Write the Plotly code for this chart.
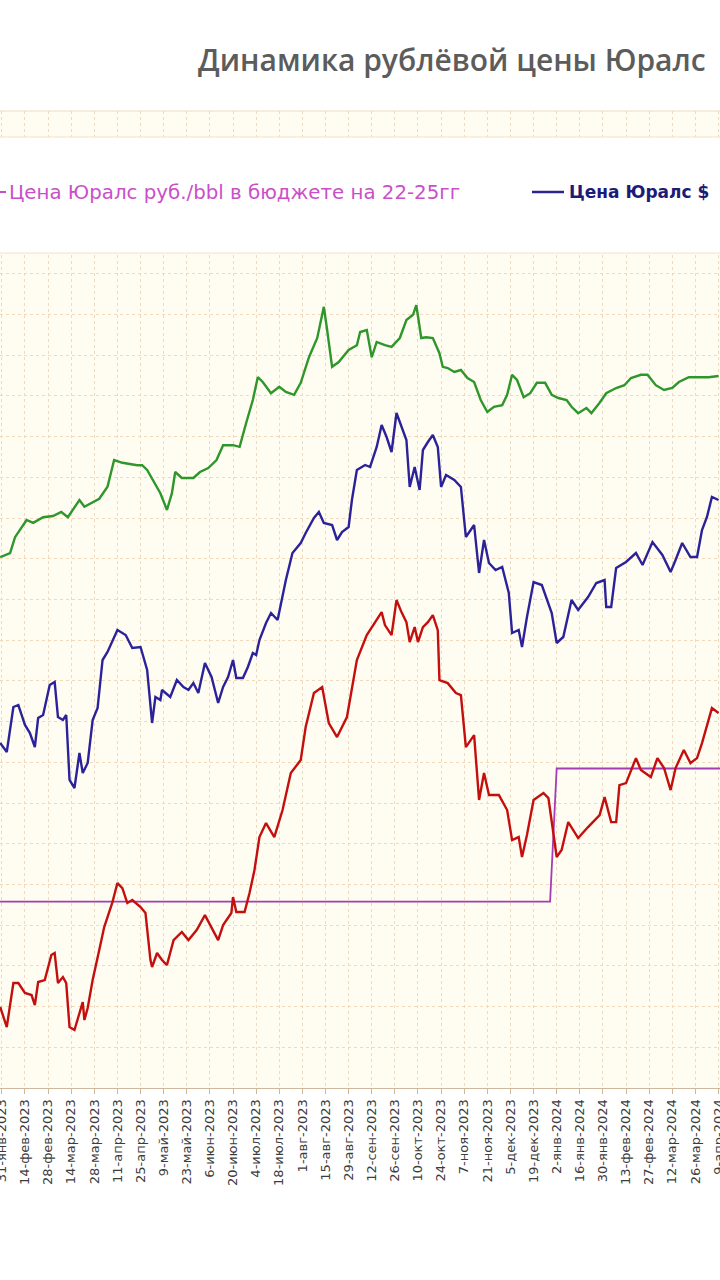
import plotly.graph_objects as go

# ---------------- data ----------------
tick_dates = ["2023-01-31", "2023-02-14", "2023-02-28", "2023-03-14", "2023-03-28", "2023-04-11",
              "2023-04-25", "2023-05-09", "2023-05-23", "2023-06-06", "2023-06-20", "2023-07-04",
              "2023-07-18", "2023-08-01", "2023-08-15", "2023-08-29", "2023-09-12", "2023-09-26",
              "2023-10-10", "2023-10-24", "2023-11-07", "2023-11-21", "2023-12-05", "2023-12-19",
              "2024-01-02", "2024-01-16", "2024-01-30", "2024-02-13", "2024-02-27", "2024-03-12",
              "2024-03-26", "2024-04-09"]
tick_labels = ["31-янв-2023", "14-фев-2023", "28-фев-2023", "14-мар-2023", "28-мар-2023", "11-апр-2023",
               "25-апр-2023", "9-май-2023", "23-май-2023", "6-июн-2023", "20-июн-2023", "4-июл-2023",
               "18-июл-2023", "1-авг-2023", "15-авг-2023", "29-авг-2023", "12-сен-2023", "26-сен-2023",
               "10-окт-2023", "24-окт-2023", "7-ноя-2023", "21-ноя-2023", "5-дек-2023", "19-дек-2023",
               "2-янв-2024", "16-янв-2024", "30-янв-2024", "13-фев-2024", "27-фев-2024", "12-мар-2024",
               "26-мар-2024", "9-апр-2024"]

# budget Urals price, rub/bbl
budget_dates = ["2023-01-29", "2023-12-29", "2024-01-02", "2024-04-10"]
budget_rub = [4788, 4788, 6424, 6424]

# Urals price in rubles, rub/bbl
urals_rub_dates = ["2023-01-30", "2023-02-03", "2023-02-07", "2023-02-10", "2023-02-14", "2023-02-18",
                   "2023-02-20", "2023-02-22", "2023-02-26", "2023-03-02", "2023-03-04", "2023-03-06",
                   "2023-03-09", "2023-03-11", "2023-03-13", "2023-03-16", "2023-03-21", "2023-03-22",
                   "2023-03-24", "2023-03-27", "2023-03-31", "2023-04-03", "2023-04-08", "2023-04-11",
                   "2023-04-14", "2023-04-17", "2023-04-20", "2023-04-25", "2023-04-28", "2023-05-01",
                   "2023-05-02", "2023-05-05", "2023-05-08", "2023-05-11", "2023-05-15", "2023-05-20",
                   "2023-05-24", "2023-05-29", "2023-06-03", "2023-06-07", "2023-06-11", "2023-06-14",
                   "2023-06-19", "2023-06-20", "2023-06-22", "2023-06-27", "2023-06-30", "2023-07-03",
                   "2023-07-06", "2023-07-10", "2023-07-15", "2023-07-20", "2023-07-25", "2023-07-31",
                   "2023-08-03", "2023-08-08", "2023-08-13", "2023-08-17", "2023-08-22", "2023-08-28",
                   "2023-08-31", "2023-09-03", "2023-09-09", "2023-09-14", "2023-09-18", "2023-09-20",
                   "2023-09-24", "2023-09-27", "2023-09-30", "2023-10-03", "2023-10-05", "2023-10-08",
                   "2023-10-10", "2023-10-13", "2023-10-16", "2023-10-19", "2023-10-22", "2023-10-23",
                   "2023-10-28", "2023-11-02", "2023-11-05", "2023-11-08", "2023-11-13", "2023-11-16",
                   "2023-11-19", "2023-11-22", "2023-11-28", "2023-12-03", "2023-12-06", "2023-12-10",
                   "2023-12-12", "2023-12-15", "2023-12-19", "2023-12-25", "2023-12-28", "2024-01-02",
                   "2024-01-05", "2024-01-09", "2024-01-15", "2024-01-21", "2024-01-28", "2024-01-31",
                   "2024-02-04", "2024-02-07", "2024-02-09", "2024-02-13", "2024-02-19", "2024-02-22",
                   "2024-02-28", "2024-03-03", "2024-03-07", "2024-03-11", "2024-03-14", "2024-03-19",
                   "2024-03-23", "2024-03-27", "2024-03-30", "2024-04-05", "2024-04-09"]
urals_rub = [3495, 3249, 3789, 3789, 3667, 3642, 3519, 3802, 3826, 4133, 4158, 3789,
             3863, 3789, 3249, 3212, 3556, 3335, 3482, 3826, 4195, 4477, 4784, 5017,
             4956, 4772, 4809, 4723, 4649, 4072, 3986, 4158, 4072, 4010, 4317, 4416,
             4317, 4440, 4624, 4477, 4317, 4502, 4649, 4845, 4661, 4661, 4895, 5177,
             5582, 5754, 5582, 5914, 6368, 6528, 6933, 7351, 7424, 6982, 6810, 7056,
             7424, 7756, 8063, 8222, 8345, 8186, 8063, 8493, 8345, 8222, 7977, 8161,
             7977, 8161, 8222, 8308, 8124, 7510, 7473, 7351, 7326, 6687, 6835, 6037,
             6368, 6098, 6098, 5914, 5545, 5582, 5337, 5607, 6037, 6123, 6061, 5337,
             5423, 5766, 5570, 5705, 5852, 6073, 5766, 5766, 6221, 6245, 6552, 6405,
             6319, 6552, 6430, 6159, 6430, 6651, 6491, 6552, 6737, 7166, 7105]

# Urals price in dollars, $/bbl
urals_usd_dates = ["2023-01-30", "2023-02-03", "2023-02-07", "2023-02-10", "2023-02-14", "2023-02-17",
                   "2023-02-20", "2023-02-22", "2023-02-25", "2023-03-01", "2023-03-04", "2023-03-06",
                   "2023-03-09", "2023-03-11", "2023-03-13", "2023-03-16", "2023-03-19", "2023-03-21",
                   "2023-03-24", "2023-03-27", "2023-03-30", "2023-04-02", "2023-04-05", "2023-04-11",
                   "2023-04-16", "2023-04-20", "2023-04-25", "2023-04-29", "2023-05-02", "2023-05-04",
                   "2023-05-07", "2023-05-08", "2023-05-13", "2023-05-17", "2023-05-21", "2023-05-24",
                   "2023-05-27", "2023-05-30", "2023-06-03", "2023-06-07", "2023-06-11", "2023-06-14",
                   "2023-06-17", "2023-06-20", "2023-06-22", "2023-06-26", "2023-06-29", "2023-07-02",
                   "2023-07-04", "2023-07-06", "2023-07-10", "2023-07-13", "2023-07-17", "2023-07-22",
                   "2023-07-26", "2023-07-31", "2023-08-03", "2023-08-08", "2023-08-11", "2023-08-14",
                   "2023-08-19", "2023-08-22", "2023-08-25", "2023-08-29", "2023-08-31", "2023-09-03",
                   "2023-09-08", "2023-09-11", "2023-09-15", "2023-09-18", "2023-09-21", "2023-09-24",
                   "2023-09-27", "2023-09-30", "2023-10-03", "2023-10-05", "2023-10-08", "2023-10-11",
                   "2023-10-13", "2023-10-16", "2023-10-19", "2023-10-22", "2023-10-24", "2023-10-27",
                   "2023-11-01", "2023-11-05", "2023-11-08", "2023-11-13", "2023-11-16", "2023-11-19",
                   "2023-11-22", "2023-11-26", "2023-11-30", "2023-12-04", "2023-12-06", "2023-12-10",
                   "2023-12-12", "2023-12-15", "2023-12-19", "2023-12-24", "2023-12-30", "2024-01-02",
                   "2024-01-06", "2024-01-11", "2024-01-15", "2024-01-21", "2024-01-26", "2024-01-31",
                   "2024-02-01", "2024-02-04", "2024-02-07", "2024-02-13", "2024-02-19", "2024-02-23",
                   "2024-02-29", "2024-03-06", "2024-03-11", "2024-03-14", "2024-03-18", "2024-03-23",
                   "2024-03-27", "2024-03-30", "2024-04-02", "2024-04-05", "2024-04-09"]
urals_usd = [52.5, 51.6, 56.1, 56.3, 54.3, 53.5, 52.1, 55.0, 55.3, 58.3, 58.6, 55.1,
             54.8, 55.3, 48.8, 48.0, 51.5, 49.5, 50.5, 54.8, 56.0, 60.8, 61.6, 63.8,
             63.3, 62.0, 62.1, 59.8, 54.5, 57.1, 56.8, 57.8, 57.1, 58.8, 58.1, 57.8,
             58.5, 57.5, 60.5, 59.1, 56.5, 58.1, 59.1, 60.8, 59.0, 59.0, 60.1, 61.5,
             61.3, 62.8, 64.5, 65.5, 64.8, 68.8, 71.5, 72.5, 73.5, 75.0, 75.6, 74.5,
             74.3, 72.8, 73.6, 74.1, 76.8, 79.8, 80.3, 80.1, 82.1, 84.3, 83.1, 81.6,
             85.5, 84.1, 82.8, 78.1, 80.1, 77.8, 81.8, 82.6, 83.3, 82.1, 78.1, 79.3,
             78.8, 78.1, 73.1, 74.3, 69.5, 72.8, 70.5, 69.8, 70.1, 67.5, 63.5, 63.8,
             62.1, 65.1, 68.6, 68.3, 65.5, 62.5, 63.1, 66.8, 65.8, 67.1, 68.5, 68.8,
             66.1, 66.1, 70.0, 70.6, 71.5, 70.3, 72.6, 71.3, 69.6, 70.8, 72.5, 71.1,
             71.1, 73.8, 75.1, 77.1, 76.8]

# USD/RUB exchange rate
usdrub_dates = ["2023-01-30", "2023-02-05", "2023-02-08", "2023-02-11", "2023-02-15", "2023-02-19",
                "2023-02-25", "2023-03-03", "2023-03-08", "2023-03-12", "2023-03-19", "2023-03-22",
                "2023-03-31", "2023-04-05", "2023-04-09", "2023-04-14", "2023-04-23", "2023-04-26",
                "2023-04-29", "2023-05-07", "2023-05-11", "2023-05-14", "2023-05-16", "2023-05-20",
                "2023-05-27", "2023-05-31", "2023-06-05", "2023-06-10", "2023-06-14", "2023-06-20",
                "2023-06-24", "2023-06-28", "2023-07-02", "2023-07-05", "2023-07-08", "2023-07-13",
                "2023-07-18", "2023-07-22", "2023-07-27", "2023-07-31", "2023-08-05", "2023-08-10",
                "2023-08-14", "2023-08-16", "2023-08-19", "2023-08-23", "2023-08-29", "2023-09-03",
                "2023-09-05", "2023-09-09", "2023-09-12", "2023-09-15", "2023-09-20", "2023-09-24",
                "2023-09-29", "2023-10-03", "2023-10-07", "2023-10-09", "2023-10-12", "2023-10-15",
                "2023-10-19", "2023-10-23", "2023-10-25", "2023-10-28", "2023-11-01", "2023-11-05",
                "2023-11-09", "2023-11-13", "2023-11-17", "2023-11-21", "2023-11-25", "2023-11-30",
                "2023-12-03", "2023-12-06", "2023-12-09", "2023-12-13", "2023-12-17", "2023-12-21",
                "2023-12-26", "2023-12-30", "2024-01-03", "2024-01-08", "2024-01-11", "2024-01-15",
                "2024-01-20", "2024-01-23", "2024-01-28", "2024-02-01", "2024-02-07", "2024-02-12",
                "2024-02-16", "2024-02-22", "2024-02-26", "2024-03-02", "2024-03-07", "2024-03-12",
                "2024-03-16", "2024-03-22", "2024-03-28", "2024-04-03", "2024-04-09"]
usdrub = [69.6, 70.1, 72.1, 73.0, 74.25, 73.9, 74.6, 74.75, 75.25, 74.6,
          76.75, 75.9, 76.9, 78.4, 81.75, 81.4, 81.1, 81.1, 80.5, 77.6,
          75.5, 77.6, 80.25, 79.5, 79.5, 80.25, 80.75, 81.75, 83.6, 83.6,
          83.4, 86.4, 89.25, 92.1, 91.5, 90.1, 90.9, 90.25, 89.9, 91.4,
          94.6, 97.0, 100.9, 98.0, 93.4, 94.0, 95.5, 96.1, 97.75, 98.0,
          94.6, 96.5, 96.1, 95.9, 97.0, 99.25, 99.9, 101.1, 97.0, 97.1,
          97.0, 95.1, 93.4, 93.25, 92.75, 93.0, 92.0, 91.5, 89.25, 87.75,
          88.4, 88.6, 89.9, 92.4, 91.75, 89.6, 90.1, 91.4, 91.4, 89.9,
          89.5, 89.25, 88.4, 87.6, 88.25, 87.6, 88.9, 90.1, 90.75, 91.1,
          92.0, 92.4, 92.4, 91.1, 90.5, 90.75, 91.5, 92.1, 92.1, 92.1, 92.25]

title_text = "Динамика рублёвой цены Юралс"
legend_budget = "Цена Юралс руб./bbl в бюджете на 22-25гг"
legend_usd = "Цена Юралс $"

# ---------------- layout helpers ----------------
W, H = 720, 1280
TOP, BOT = 111, 192
PLOT_H = H - TOP - BOT


def py(p):
    return (H - BOT - p) / PLOT_H


def px(p):
    return p / W


fig = go.Figure()

fig.add_trace(go.Scatter(x=budget_dates, y=budget_rub, mode="lines", yaxis="y",
                         line=dict(color="#a23db5", width=1.8), showlegend=False))
fig.add_trace(go.Scatter(x=urals_rub_dates, y=urals_rub, mode="lines", yaxis="y",
                         line=dict(color="#c40f0f", width=2.4), showlegend=False))
fig.add_trace(go.Scatter(x=urals_usd_dates, y=urals_usd, mode="lines", yaxis="y2",
                         line=dict(color="#2b229a", width=2.4), showlegend=False))
fig.add_trace(go.Scatter(x=usdrub_dates, y=usdrub, mode="lines", yaxis="y3",
                         line=dict(color="#2e962a", width=2.4), showlegend=False))

grid_col = "#f1d9bd"

fig.update_layout(
    width=W, height=H,
    margin=dict(l=0, r=0, t=TOP, b=BOT, pad=0, autoexpand=False),
    paper_bgcolor="white",
    plot_bgcolor="#fffdf1",
    showlegend=False,
    xaxis=dict(
        type="date",
        automargin=False,
        range=["2023-01-29 21:30", "2024-04-09 21:30"],
        tickmode="array", tickvals=tick_dates, ticktext=tick_labels,
        tickangle=-90,
        ticklabeloverflow="allow",
        tickfont=dict(family="DejaVu Sans", size=13, color="#3c3c3c"),
        showgrid=True, gridcolor=grid_col, griddash="dot", gridwidth=1,
        showline=True, linecolor="#cdb79d", linewidth=1,
        ticks="outside", ticklen=5, tickcolor="#cdb79d",
        zeroline=False,
    ),
    yaxis=dict(
        automargin=False,
        range=[2500, 14500], dtick=500, tick0=0,
        showticklabels=False, ticks="",
        showgrid=True, gridcolor=grid_col, griddash="dot", gridwidth=1,
        zeroline=False, showline=False,
    ),
    yaxis2=dict(range=[18, 18 + PLOT_H / 10], overlaying="y", visible=False),
    yaxis3=dict(range=[3.25, 3.25 + PLOT_H / 8], overlaying="y", visible=False),
)

# top edge of plot area
fig.add_shape(type="line", xref="paper", yref="paper", x0=0, x1=1, y0=1, y1=1,
              line=dict(color=grid_col, width=1), layer="above")

# legend box
fig.add_shape(type="rect", xref="paper", yref="paper",
              x0=-0.02, x1=1.02, y0=py(253), y1=py(137),
              fillcolor="white", line=dict(color="#f3dfc6", width=1), layer="above")
fig.add_shape(type="line", xref="paper", yref="paper",
              x0=-0.02, x1=px(6), y0=py(192), y1=py(192),
              line=dict(color="#c050c8", width=2), layer="above")
fig.add_shape(type="line", xref="paper", yref="paper",
              x0=px(532), x1=px(564), y0=py(192), y1=py(192),
              line=dict(color="#2a2390", width=2.5), layer="above")

fig.add_annotation(text=legend_budget, xref="paper", yref="paper",
                   x=px(7), y=py(192), xanchor="left", yanchor="middle", showarrow=False,
                   font=dict(family="DejaVu Sans", size=19.8, color="#c94fc9"))
fig.add_annotation(text="<b>" + legend_usd + "</b>", xref="paper", yref="paper",
                   x=px(567), y=py(192), xanchor="left", yanchor="middle", showarrow=False,
                   font=dict(family="DejaVu Sans", size=17, color="#1d1a78"))

# title
fig.add_annotation(text=title_text, xref="paper", yref="paper",
                   x=px(452), y=py(60), xanchor="center", yanchor="middle", showarrow=False,
                   font=dict(family="Open Sans", size=30, color="#5c5c5c", weight=600))

fig.write_html("out.html", config={"displayModeBar": False},
               post_script="document.body.style.margin='0px';")
